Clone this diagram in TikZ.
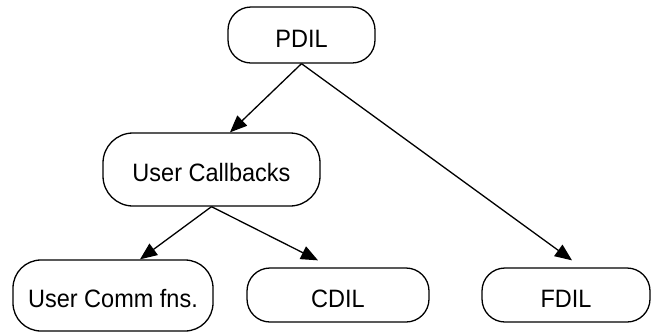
\documentclass[tikz,border=0pt]{standalone}
\usepackage{fontspec}
\setmainfont{Liberation Sans}
\usetikzlibrary{arrows.meta}
\newcommand\tallt[1]{\scalebox{1}[1.07]{#1}}
\begin{document}
\begin{tikzpicture}[x=1pt,y=-1pt,
  box/.style={draw, line width=1.3pt, rounded corners=23pt, inner sep=0pt,
    text height=24pt, text depth=0pt,
    font=\fontsize{23.5}{27}\selectfont},
  arr/.style={line width=1.3pt, -{Triangle[length=17pt,width=14pt]}}]
\useasboundingbox (0,0) rectangle (652,333);
\node[box, minimum width=147pt, minimum height=56pt] (pdil) at (301.5,35) {\tallt{PDIL}};
\node[box, minimum width=217pt, minimum height=73pt, rounded corners=30pt] (ucb) at (211.5,169.5) {\tallt{User Callbacks}};
\node[box, minimum width=200pt, minimum height=71pt, rounded corners=28pt] (ucf) at (113,295.5) {\tallt{User Comm fns.}};
\node[box, minimum width=182pt, minimum height=54pt] (cdil) at (338,295) {\tallt{CDIL}};
\node[box, minimum width=168pt, minimum height=54pt] (fdil) at (566,295) {\tallt{FDIL}};
\draw[arr] (pdil.south) -- ([xshift=18.5pt]ucb.north);
\draw[arr] (pdil.south) -- ([xshift=6pt,yshift=7pt]fdil.north);
\draw[arr] (ucb.south) -- ([xshift=27pt]ucf.north);
\draw[arr] (ucb.south) -- ([xshift=-20pt,yshift=7pt]cdil.north);
\end{tikzpicture}
\end{document}
